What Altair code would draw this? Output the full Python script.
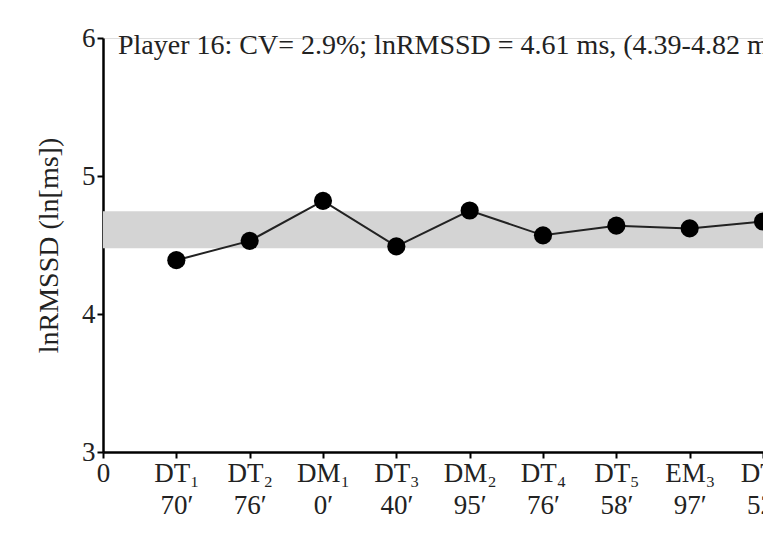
import json
import altair as alt
import pandas as pd

# Sessions in order (x positions 1..n), with their duration labels
sessions = ["DT₁", "DT₂", "DM₁", "DT₃", "DM₂", "DT₄", "DT₅", "EM₃", "DT₆"]
durations = ["70′", "76′", "0′", "40′", "95′", "76′", "58′", "97′", "52′"]
ln_rmssd = [4.39, 4.53, 4.82, 4.49, 4.75, 4.57, 4.64, 4.62, 4.67]

player = 16
cv_pct = 2.9
mean_ln = 4.61

FONT = "Liberation Serif"

df = pd.DataFrame({
    "pos": list(range(1, len(sessions) + 1)),
    "session": sessions,
    "value": ln_rmssd,
})

# Band = mean ± CV
band = pd.DataFrame({
    "x0": [0.0], "x1": [float(len(sessions))],
    "lo": [mean_ln * (1 - cv_pct / 100)],
    "hi": [mean_ln * (1 + cv_pct / 100)],
})

title_text = (
    f"Player {player}: CV= {cv_pct}%; lnRMSSD = {mean_ln:.2f} ms, "
    f"({min(ln_rmssd):.2f}-{max(ln_rmssd):.2f} ms)"
)

# Two-line tick labels: session on top, duration below
label_table = [["0"]] + [[s, d] for s, d in zip(sessions, durations)]
label_expr = json.dumps(label_table, ensure_ascii=False) + "[datum.value]"

x_scale = alt.Scale(domain=[0, len(sessions)], nice=False, zero=False)
y_scale = alt.Scale(domain=[3, 6], nice=False, zero=False)

x_axis = alt.Axis(
    values=list(range(0, len(sessions) + 1)),
    labelExpr=label_expr,
    title=None, grid=False,
    domainColor="black", domainWidth=2.5,
    tickColor="black", tickWidth=2, tickSize=6,
    labelFont=FONT, labelFontSize=27, labelColor="#222",
    labelPadding=2, labelLineHeight=32, labelBaseline="top",
    labelOverlap=False, labelFlush=False, labelBound=False,
)
y_axis = alt.Axis(
    values=[3, 4, 5, 6], format="d",
    title="lnRMSSD (ln[ms])", grid=False,
    domainColor="black", domainWidth=2.5,
    tickColor="black", tickWidth=2, tickSize=6,
    labelFont=FONT, labelFontSize=27, labelColor="#222", labelPadding=2,
    titleFont=FONT, titleFontSize=28, titleFontWeight="normal",
    titleColor="#222", titlePadding=18,
)

shade = alt.Chart(band).mark_rect(color="#d4d4d4").encode(
    x=alt.X("x0:Q", scale=x_scale, axis=x_axis),
    x2="x1:Q",
    y=alt.Y("lo:Q", scale=y_scale, axis=y_axis),
    y2="hi:Q",
)

line = alt.Chart(df).mark_line(color="#222", strokeWidth=2).encode(
    x=alt.X("pos:Q", scale=x_scale),
    y=alt.Y("value:Q", scale=y_scale),
)

points = alt.Chart(df).mark_circle(color="black", opacity=1, size=330).encode(
    x=alt.X("pos:Q", scale=x_scale),
    y=alt.Y("value:Q", scale=y_scale),
)

heading = alt.Chart(pd.DataFrame({"t": [title_text]})).mark_text(
    align="left", baseline="middle", font=FONT, fontSize=28, color="#222",
).encode(
    x=alt.value(15), y=alt.value(8), text="t:N",
)

chart = alt.layer(shade, line, points, heading).properties(
    width=660, height=414,
    autosize=alt.AutoSizeParams(type="none"),
    padding={"left": 103, "top": 38, "right": 0, "bottom": 91},
).configure_view(stroke=None).configure(background="white")

chart.save("out.html", embed_options={"renderer": "svg", "actions": False})
